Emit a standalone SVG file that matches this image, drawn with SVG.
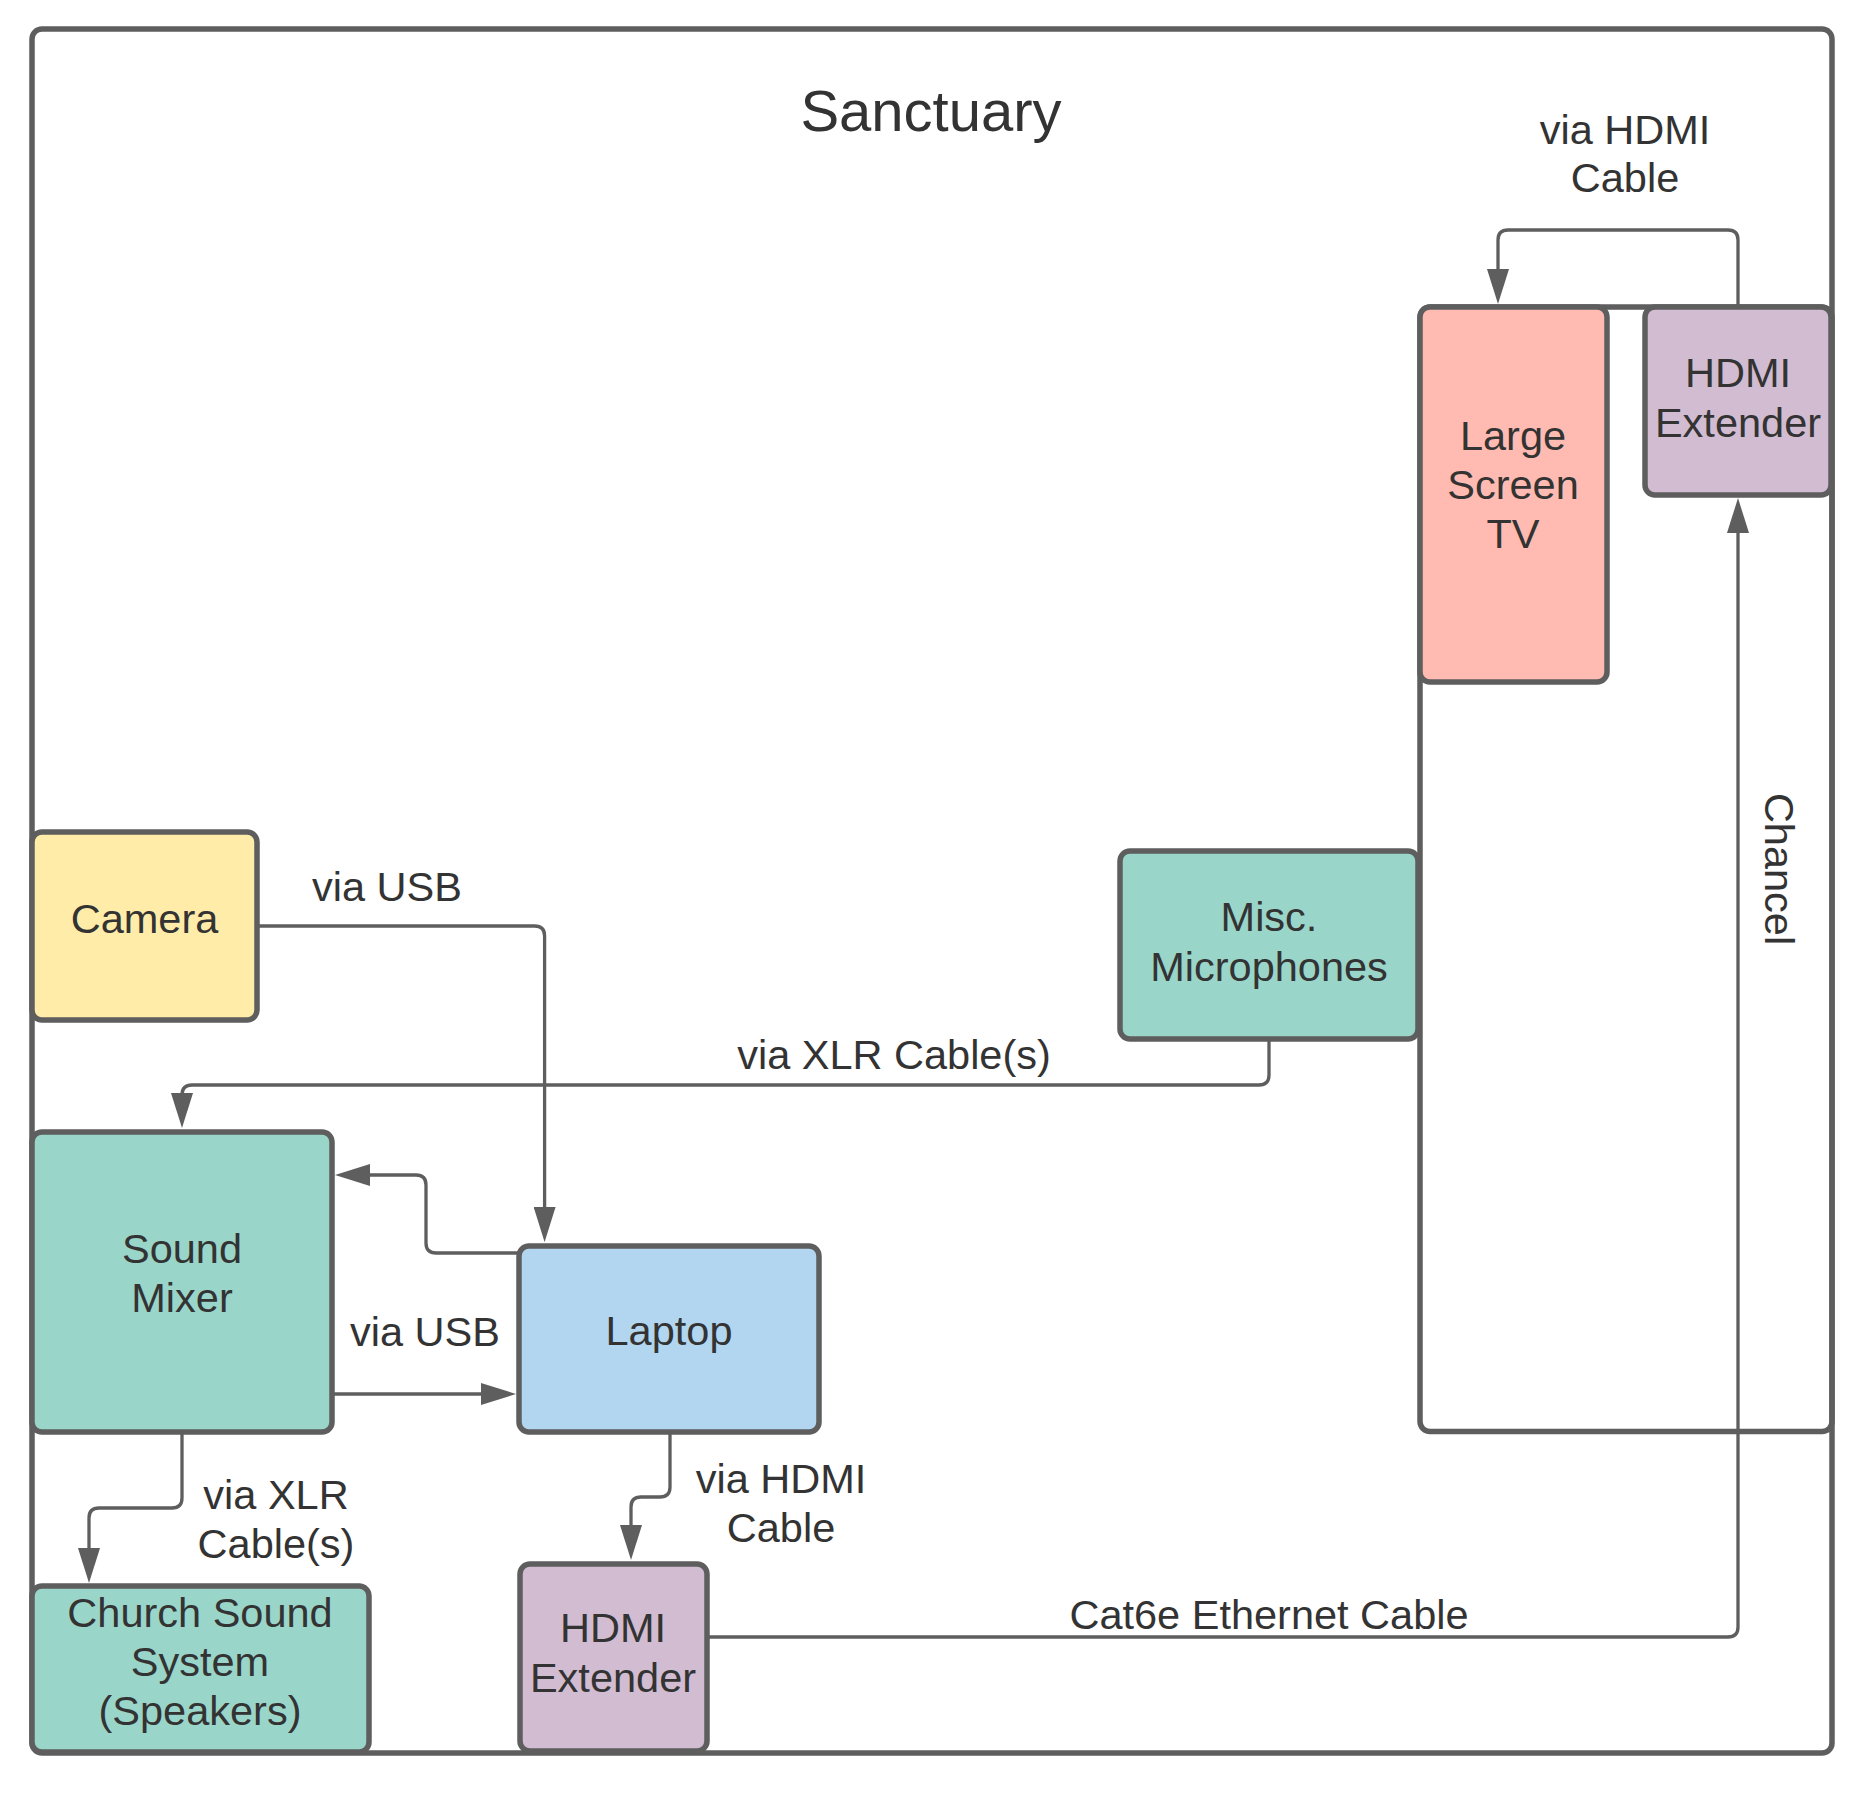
<svg xmlns="http://www.w3.org/2000/svg" width="1864" height="1800" viewBox="0 0 1864 1800">
<style>
.box{stroke:#5e5e5e;stroke-width:5.5}
.cont{fill:none;stroke:#5e5e5e;stroke-width:5.5}
.teal{fill:#9ad5ca}
.yellow{fill:#ffeca9}
.blue{fill:#b2d6ef}
.purple{fill:#d1bcd2}
.salmon{fill:#ffbbb1}
.line{fill:none;stroke:#5e5e5e;stroke-width:3.3}
text{font-family:"Liberation Sans",Arial,sans-serif;font-size:41.5px;fill:#333333;text-anchor:middle}
.title{font-size:58px}
</style>
<defs>
<marker id="arr" viewBox="0 0 35 22" refX="25" refY="11" markerWidth="35" markerHeight="22" markerUnits="userSpaceOnUse" orient="auto">
<path d="M0,0 L35,11 L0,22 z" fill="#5e5e5e"/>
</marker>
</defs>
<rect width="1864" height="1800" fill="#ffffff"/>
<g id="sanctuary">
<rect class="cont" x="32" y="29" width="1800" height="1724" rx="10"/>
<text class="title" x="931" y="131">Sanctuary</text>
</g>
<g id="chancel">
<rect class="cont" x="1420" y="307" width="412" height="1124.5" rx="10"/>
<text transform="translate(1765,869) rotate(90)" x="0" y="0">Chancel</text>
</g>
<g id="connectors">
<path class="line" marker-end="url(#arr)" d="M1738,307 L1738,240 Q1738,230 1728,230 L1508,230 Q1498,230 1498,240 L1498,294"/>
<path class="line" marker-end="url(#arr)" d="M257,926 L534.6,926 Q544.6,926 544.6,936 L544.6,1232"/>
<path class="line" marker-end="url(#arr)" d="M1269,1039 L1269,1075 Q1269,1085 1259,1085 L192,1085 Q182,1085 182,1095 L182,1118"/>
<path class="line" marker-end="url(#arr)" d="M519,1253 L436,1253 Q426,1253 426,1243 L426,1185 Q426,1175 416,1175 L345,1175"/>
<path class="line" marker-end="url(#arr)" d="M332,1394 L506,1394"/>
<path class="line" marker-end="url(#arr)" d="M182,1432 L182,1498 Q182,1508 172,1508 L99,1508 Q89,1508 89,1518 L89,1573"/>
<path class="line" marker-end="url(#arr)" d="M670,1432 L670,1487 Q670,1497 660,1497 L641,1497 Q631,1497 631,1507 L631,1550"/>
<path class="line" marker-end="url(#arr)" d="M707,1637 L1728,1637 Q1738,1637 1738,1627 L1738,508"/>
<text x="1625" y="143.5">via HDMI</text>
<text x="1625" y="192">Cable</text>
<text x="387" y="901">via USB</text>
<text x="894" y="1069">via XLR Cable(s)</text>
<text x="425" y="1346">via USB</text>
<text x="276" y="1508.5">via XLR</text>
<text x="276" y="1557.5">Cable(s)</text>
<text x="781" y="1493">via HDMI</text>
<text x="781" y="1542">Cable</text>
<text x="1269" y="1629">Cat6e Ethernet Cable</text>
</g>
<g id="camera">
<rect class="box yellow" x="32" y="832" width="225" height="188" rx="10"/>
<text x="144.5" y="933">Camera</text>
</g>
<g id="microphones">
<rect class="box teal" x="1120" y="851" width="298" height="188" rx="10"/>
<text x="1269" y="931">Misc.</text>
<text x="1269" y="980.5">Microphones</text>
</g>
<g id="sound-mixer">
<rect class="box teal" x="32" y="1132" width="300" height="300" rx="10"/>
<text x="182" y="1263">Sound</text>
<text x="182" y="1312">Mixer</text>
</g>
<g id="laptop">
<rect class="box blue" x="519" y="1246" width="300" height="186" rx="10"/>
<text x="669" y="1345">Laptop</text>
</g>
<g id="church-sound">
<rect class="box teal" x="32" y="1586" width="337" height="166" rx="10"/>
<text x="200" y="1627">Church Sound</text>
<text x="200" y="1676">System</text>
<text x="200" y="1725">(Speakers)</text>
</g>
<g id="hdmi-extender-1">
<rect class="box purple" x="520" y="1564" width="187" height="187" rx="10"/>
<text x="613" y="1641.5">HDMI</text>
<text x="613" y="1691.5">Extender</text>
</g>
<g id="large-screen-tv">
<rect class="box salmon" x="1420" y="307" width="187" height="375" rx="10"/>
<text x="1513" y="450">Large</text>
<text x="1513" y="499">Screen</text>
<text x="1513" y="548">TV</text>
</g>
<g id="hdmi-extender-2">
<rect class="box purple" x="1645" y="307" width="186" height="188" rx="10"/>
<text x="1738" y="387">HDMI</text>
<text x="1738" y="437">Extender</text>
</g>
</svg>
